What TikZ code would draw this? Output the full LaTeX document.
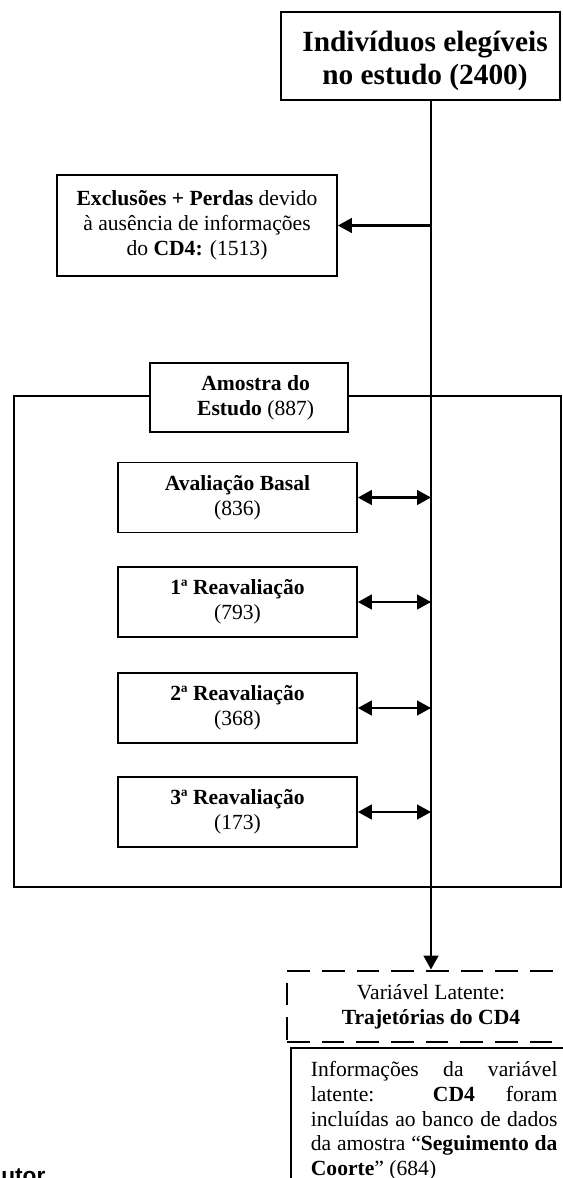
\documentclass[tikz,border=0pt]{standalone}
\usepackage{fontspec}
\setmainfont{Liberation Serif}
\newfontfamily\arialfont{Liberation Sans}
\usetikzlibrary{arrows.meta}
\begin{document}
\begin{tikzpicture}[x=0.75pt,y=-0.75pt,
  box/.style={draw, line width=1.3pt, rectangle, inner sep=0pt, align=center, fill=white},
  body/.style={font=\fontsize{16.2}{18.6}\selectfont},
  big/.style={font=\fontsize{22}{25.3}\selectfont\bfseries},
  evalbox/.style={box, body, minimum width=179.25pt, minimum height=52.5pt},
  arr/.style={line width=1.9pt, -{Triangle[length=10.5pt,width=11pt]}},
  darr/.style={line width=1.9pt, {Triangle[length=10.5pt,width=11pt]}-{Triangle[length=10.5pt,width=11pt]}},
]
\useasboundingbox (0,0) rectangle (563,1178);
\clip (0,0) rectangle (563,1178);

\coordinate (spine) at (431,0);

\node[box, minimum width=209.25pt, minimum height=66pt] (top) at (420.5,56) {};
\node[big, align=center, inner sep=0pt] (toptext) at (425,61)
  {Indivíduos elegíveis\\no estudo (2400)};

\node[box, body, minimum width=210pt, minimum height=75.75pt] (excl) at (197,225.5)
  {\textbf{Exclusões + Perdas} devido\\à ausência de informações\\do \textbf{CD4:} (1513)};

\node[draw, line width=1.3pt, rectangle, inner sep=0pt, minimum width=410.25pt, minimum height=368.25pt] (outer) at (287.5,641.5) {};

\node[box, body, minimum width=148.5pt, minimum height=51.75pt] (amostra) at (249,397.5)
  {\hspace*{10pt}\textbf{Amostra do}\\\hspace*{10pt}\textbf{Estudo} (887)};

\node[evalbox] (A) at (237.5,497.5) {\textbf{Avaliação Basal}\\(836)};
\node[evalbox] (B) at (237.5,602) {\textbf{1ª Reavaliação}\\(793)};
\node[evalbox] (C) at (237.5,708) {\textbf{2ª Reavaliação}\\(368)};
\node[evalbox] (D) at (237.5,812) {\textbf{3ª Reavaliação}\\(173)};

\node[draw, line width=2.2pt, dash pattern=on 17pt off 9pt, rectangle, inner sep=0pt,
  body, align=center, minimum width=216pt, minimum height=53.25pt] (lat) at (431,1006.5)
  {Variável Latente:\\\textbf{Trajetórias do CD4}};

\node[draw, line width=1.3pt, rectangle, anchor=north west, inner xsep=15pt, inner ysep=10pt,
  text width=185pt, align=justify, body] (info) at (290,1047)
  {\hyphenpenalty=10000\relax\tolerance=10000\relax
   Informações da variável\linebreak latente: \textbf{CD4} foram\linebreak incluídas ao banco de dados\linebreak da amostra “\textbf{Seguimento da}\linebreak \textbf{Coorte}” (684)};

\node[anchor=base west, inner sep=0pt, font=\arialfont\bfseries\fontsize{17}{20}\selectfont] (src) at (1,1183) {utor};

\draw[arr, line width=2pt] (top.south -| spine) -- (lat.north);
\draw[arr] (excl.east -| spine) -- (excl.east);
\draw[darr] (A.east) -- (A.east -| spine);
\draw[darr] (B.east) -- (B.east -| spine);
\draw[darr] (C.east) -- (C.east -| spine);
\draw[darr] (D.east) -- (D.east -| spine);
\end{tikzpicture}
\end{document}
